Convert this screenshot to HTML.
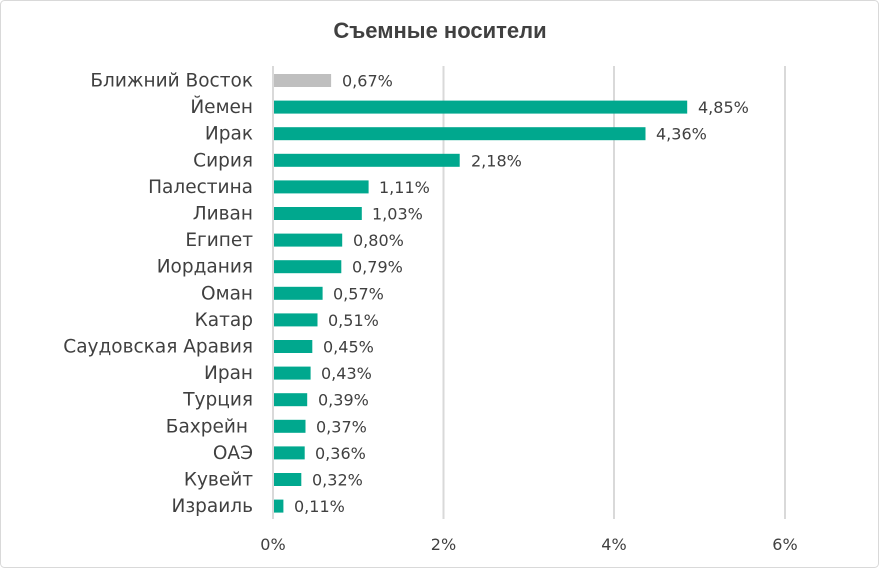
<!DOCTYPE html><html><head><meta charset="utf-8"><style>body{margin:0;background:#fff}</style></head><body>
<svg width="879" height="568" xmlns="http://www.w3.org/2000/svg" font-family="DejaVu Sans, sans-serif">
<rect x="0.5" y="0.5" width="878" height="567" rx="4" fill="#fff" stroke="#d9d9d9"/>
<text x="440" y="38" text-anchor="middle" font-size="22" font-weight="bold" fill="#404040" font-family="Liberation Sans, sans-serif">Съемные носители</text>
<g stroke="#d9d9d9" stroke-width="2">
<line x1="443.5" y1="66" x2="443.5" y2="519"/><line x1="614" y1="66" x2="614" y2="519"/><line x1="785" y1="66" x2="785" y2="519"/><line x1="273" y1="66" x2="273" y2="519"/>
</g>
<g font-size="16" fill="#404040" text-anchor="middle">
<text x="273" y="550">0%</text><text x="443.5" y="550">2%</text><text x="614" y="550">4%</text><text x="785" y="550">6%</text>
</g>
<g fill="#00a88e">
<rect x="274" y="74" width="57.1" height="13" fill="#bfbfbf"/>
<rect x="274" y="100.6" width="413.2" height="13"/>
<rect x="274" y="127.2" width="371.5" height="13"/>
<rect x="274" y="153.8" width="185.7" height="13"/>
<rect x="274" y="180.4" width="94.6" height="13"/>
<rect x="274" y="207" width="87.8" height="13"/>
<rect x="274" y="233.6" width="68.2" height="13"/>
<rect x="274" y="260.2" width="67.3" height="13"/>
<rect x="274" y="286.8" width="48.6" height="13"/>
<rect x="274" y="313.4" width="43.5" height="13"/>
<rect x="274" y="340" width="38.3" height="13"/>
<rect x="274" y="366.6" width="36.6" height="13"/>
<rect x="274" y="393.2" width="33.2" height="13"/>
<rect x="274" y="419.8" width="31.5" height="13"/>
<rect x="274" y="446.4" width="30.7" height="13"/>
<rect x="274" y="473" width="27.3" height="13"/>
<rect x="274" y="499.6" width="9.4" height="13"/>
</g>
<g font-size="18.5" fill="#404040" text-anchor="end">
<text x="253" y="86.5">Ближний Восток</text>
<text x="253" y="113.1">Йемен</text>
<text x="253" y="139.7">Ирак</text>
<text x="253" y="166.3">Сирия</text>
<text x="253" y="192.9">Палестина</text>
<text x="253" y="219.5">Ливан</text>
<text x="253" y="246.1">Египет</text>
<text x="253" y="272.7">Иордания</text>
<text x="253" y="299.3">Оман</text>
<text x="253" y="325.9">Катар</text>
<text x="253" y="352.5">Саудовская Аравия</text>
<text x="253" y="379.1">Иран</text>
<text x="253" y="405.7">Турция</text>
<text x="248" y="432.3">Бахрейн</text>
<text x="253" y="458.9">ОАЭ</text>
<text x="253" y="485.5">Кувейт</text>
<text x="253" y="512.1">Израиль</text>
</g>
<g font-size="16" fill="#404040">
<text x="342" y="86.5">0,67%</text>
<text x="698" y="113.1">4,85%</text>
<text x="656" y="139.7">4,36%</text>
<text x="471" y="166.3">2,18%</text>
<text x="379" y="192.9">1,11%</text>
<text x="372" y="219.5">1,03%</text>
<text x="353" y="246.1">0,80%</text>
<text x="352" y="272.7">0,79%</text>
<text x="333" y="299.3">0,57%</text>
<text x="328" y="325.9">0,51%</text>
<text x="323" y="352.5">0,45%</text>
<text x="321" y="379.1">0,43%</text>
<text x="318" y="405.7">0,39%</text>
<text x="316" y="432.3">0,37%</text>
<text x="315" y="458.9">0,36%</text>
<text x="312" y="485.5">0,32%</text>
<text x="294" y="512.1">0,11%</text>
</g>
</svg></body></html>
